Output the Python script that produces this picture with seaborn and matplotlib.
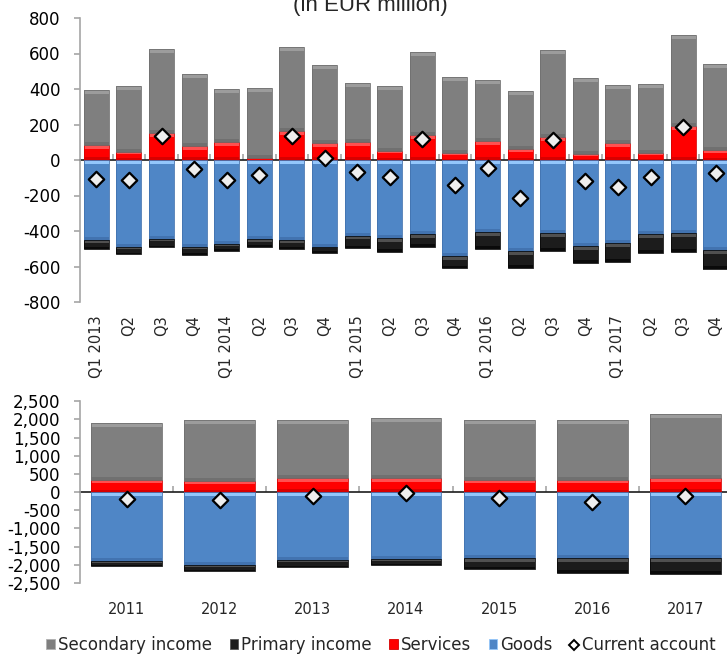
import numpy as np
import pandas as pd
import matplotlib
matplotlib.use("Agg")
import matplotlib.pyplot as plt
import seaborn as sns
from matplotlib.patches import Patch
from matplotlib.lines import Line2D
from matplotlib.ticker import FuncFormatter

# ---- quarterly balance of payments components (EUR million) ----
q_periods = ["2013Q1", "2013Q2", "2013Q3", "2013Q4", "2014Q1", "2014Q2", "2014Q3", "2014Q4",
             "2015Q1", "2015Q2", "2015Q3", "2015Q4", "2016Q1", "2016Q2", "2016Q3", "2016Q4",
             "2017Q1", "2017Q2", "2017Q3", "2017Q4"]
q_labels = ["Q1 2013", "Q2", "Q3", "Q4", "Q1 2014", "Q2", "Q3", "Q4",
            "Q1 2015", "Q2", "Q3", "Q4", "Q1 2016", "Q2", "Q3", "Q4",
            "Q1 2017", "Q2", "Q3", "Q4"]
q_secondary = [309, 372, 474, 404, 299, 391, 475, 441, 333, 366, 467, 428,
               346, 327, 490, 426, 327, 387, 514, 485]
q_services = [85, 45, 150, 81, 101, 13, 163, 94, 103, 53, 141, 41,
              105, 64, 130, 34, 94, 39, 192, 56]
q_goods = [-451, -488, -445, -488, -475, -447, -451, -488, -426, -441, -419, -541,
           -404, -511, -413, -485, -466, -419, -413, -507]
q_primary = [-52, -43, -47, -47, -36, -41, -49, -34, -72, -76, -69, -69,
             -99, -96, -98, -97, -107, -107, -107, -105]
q_current = [-107, -115, 135, -51, -113, -85, 135, 9, -65, -94, 117, -141,
             -47, -212, 113, -118, -150, -96, 184, -71]

# ---- annual components (EUR million) ----
years = ["2011", "2012", "2013", "2014", "2015", "2016", "2017"]
a_secondary = [1550, 1669, 1587, 1651, 1642, 1624, 1761]
a_services = [348, 303, 385, 385, 348, 348, 394]
a_goods = [-1907, -2017, -1870, -1852, -1816, -1816, -1806]
a_primary = [-138, -165, -193, -165, -311, -403, -441]
a_current = [-202, -229, -119, -28, -174, -266, -119]

GREY = "#7f7f7f"
BLACK = "#1c1c1c"
RED = "#ff0000"
BLUE = "#4f86c6"
AXIS_GREY = "#a6a6a6"
# light / dark bevel tones for each fill
BEVEL = {
    GREY: ("#9c9c9c", "#707070"),
    BLACK: ("#505050", "#0a0a0a"),
    RED: ("#ff5050", "#d80000"),
    BLUE: ("#93c6fb", "#4273b0"),
}

sns.set_theme(style="white")
plt.rcParams["font.family"] = ["DejaVu Sans"]

W, H = 727, 659
fig = plt.figure(figsize=(W / 100, H / 100), dpi=100)


def draw_panel(ax, keys, sec, serv, goods, prim, cur, width, ylim, upp):
    n = len(keys)
    df = pd.DataFrame({
        "period": keys,
        "pos_total": np.add(sec, serv),
        "services": serv,
        "neg_total": np.add(goods, prim),
        "goods": goods,
    })
    for col, color in [("pos_total", GREY), ("services", RED),
                       ("neg_total", BLACK), ("goods", BLUE)]:
        sns.barplot(data=df, x="period", y=col, order=keys, color=color,
                    saturation=1, width=width, errorbar=None, linewidth=0,
                    ax=ax, zorder=2)

    # bevel: lighter band along the upper edge, darker band along the lower edge
    x = np.arange(n)
    segments = [
        (np.zeros(n), np.asarray(serv, float), RED),
        (np.asarray(serv, float), np.add(sec, serv).astype(float), GREY),
        (np.asarray(goods, float), np.zeros(n), BLUE),
        (np.add(goods, prim).astype(float), np.asarray(goods, float), BLACK),
    ]
    for lo, hi, color in segments:
        h = hi - lo
        light, dark = BEVEL[color]
        top_band = np.minimum(4 * upp, 0.3 * h)
        bot_band = np.minimum(3 * upp, 0.2 * h)
        ax.bar(x, top_band, bottom=hi - top_band, width=width, color=light,
               linewidth=0, zorder=3)
        ax.bar(x, bot_band, bottom=lo, width=width, color=dark,
               linewidth=0, zorder=3)
        ax.bar(x, h, bottom=lo, width=width, fill=False,
               edgecolor=dark, linewidth=0.6, zorder=3.5)

    ax.scatter(x, cur, marker="D", s=62, facecolor="#eeeeee",
               edgecolor="black", linewidths=1.6, zorder=5)

    ax.set_xlim(-0.5, n - 0.5)
    ax.set_ylim(*ylim)
    ax.set_xlabel("")
    ax.set_ylabel("")
    for s in ["top", "right", "bottom"]:
        ax.spines[s].set_visible(False)
    ax.spines["left"].set_color(AXIS_GREY)
    ax.spines["left"].set_linewidth(1.2)
    ax.tick_params(axis="y", length=4, width=1.2, color=AXIS_GREY, pad=10,
                   labelsize=12, labelcolor="black", left=True)
    ax.yaxis.set_major_formatter(FuncFormatter(lambda v, p: f"{v:,.0f}"))

    # zero line with small separators between categories
    zero = ax.secondary_xaxis((0 - ylim[0]) / (ylim[1] - ylim[0]))
    zero.set_xticks(np.arange(n - 1) + 0.5)
    zero.set_xticklabels([])
    zero.tick_params(axis="x", direction="out", length=4, width=1.2,
                     color=AXIS_GREY)
    zero.spines["bottom"].set_color(AXIS_GREY)
    zero.spines["bottom"].set_linewidth(1.3)
    zero.set_zorder(1)


left = 80 / W
width_ax = 652 / W

ax1 = fig.add_axes([left, 1 - 302 / H, width_ax, 284 / H])
draw_panel(ax1, q_periods, q_secondary, q_services, q_goods, q_primary,
           q_current, 0.77, (-800, 800), 1600 / 284)
ax1.set_yticks(np.arange(-800, 801, 200))
ax1.set_xticks(np.arange(len(q_periods)))
ax1.set_xticklabels(q_labels, rotation=90, fontsize=10.5)
ax1.tick_params(axis="x", length=0, pad=9.5)

ax2 = fig.add_axes([left, 1 - 583 / H, width_ax, 181.7 / H])
draw_panel(ax2, years, a_secondary, a_services, a_goods, a_primary,
           a_current, 0.76, (-2500, 2500), 5000 / 181.7)
ax2.set_yticks(np.arange(-2500, 2501, 500))
ax2.set_xticks(np.arange(len(years)))
ax2.set_xticklabels(years, fontsize=10.5)
ax2.tick_params(axis="x", length=0, pad=14)

fig.text(370 / W, 1 - 11.5 / H, "(in EUR million)", ha="center",
         va="baseline", fontsize=16, family=["Liberation Sans", "DejaVu Sans"])

handles = [
    Patch(facecolor=GREY, edgecolor="#b0b0b0", linewidth=0.6),
    Patch(facecolor=BLACK, edgecolor="#555555", linewidth=0.6),
    Patch(facecolor=RED, edgecolor="#d40000", linewidth=0.6),
    Patch(facecolor=BLUE, edgecolor="#93c6fb", linewidth=0.6),
    Line2D([], [], marker="D", linestyle="none", markersize=5.5,
           markerfacecolor="white", markeredgecolor="black",
           markeredgewidth=1.4),
]
names = ["Secondary income", "Primary income", "Services", "Goods",
         "Current account"]
fig.legend(handles, names, loc="center", bbox_to_anchor=(381 / W, 1 - 645 / H),
           ncol=5, frameon=False, fontsize=12, handlelength=0.5,
           handleheight=0.5, handletextpad=0.2, columnspacing=1.05,
           borderaxespad=0, borderpad=0)

fig.savefig("out.png", dpi=100)
